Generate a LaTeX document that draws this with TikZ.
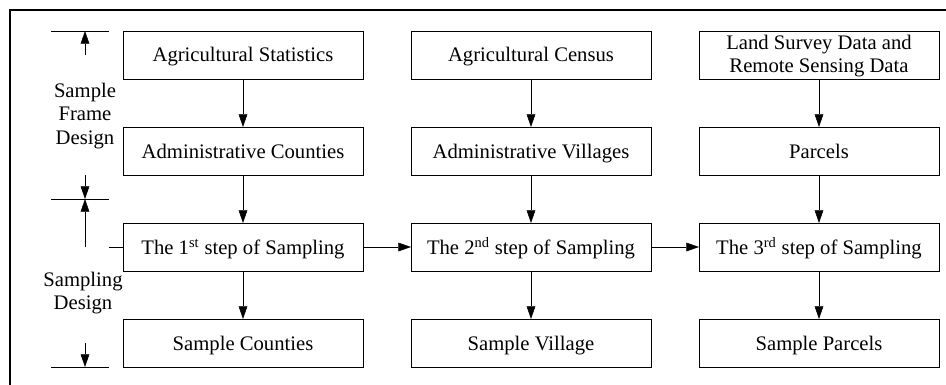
\documentclass[tikz,border=0pt]{standalone}
\usepackage{fontspec}
\setmainfont{Liberation Serif}
\usetikzlibrary{positioning,arrows.meta}

\begin{document}
\begin{tikzpicture}[
  x=0.75pt, y=-0.75pt,
  node distance=36pt,
  box/.style={minimum width=180pt, minimum height=36pt, inner sep=0pt, outer sep=0pt, draw, line width=0.6pt,
    font=\fontsize{15.5}{17.25}\selectfont, align=center, text height=12.5pt, text depth=2pt},
  twoline/.style={text height=29pt, text depth=3pt},
  lbl/.style={font=\fontsize{15.5}{17.5}\selectfont, align=center},
  >={Triangle[length=9.5pt,width=6.5pt]}
]
  \useasboundingbox (0,0) rectangle (946,385);

  % outer frame
  \draw[line width=2.2pt] (10,390) -- (10,10) -- (950,10);

  % first row
  \node[box] (stat) at (243,55) {Agricultural Statistics};
  \node[box, right=of stat] (census) {Agricultural Census};
  \node[box, twoline, right=of census] (survey) {Land Survey Data and\\Remote Sensing Data};

  % second row
  \node[box, below=of stat] (counties) {Administrative Counties};
  \node[box, below=of census] (villages) {Administrative Villages};
  \node[box, below=of survey] (parcels) {Parcels};

  % third row
  \node[box, below=of counties] (step1) {The 1\textsuperscript{st} step of Sampling};
  \node[box, below=of villages] (step2) {The 2\textsuperscript{nd} step of Sampling};
  \node[box, below=of parcels] (step3) {The 3\textsuperscript{rd} step of Sampling};

  % fourth row
  \node[box, below=of step1] (scounties) {Sample Counties};
  \node[box, below=of step2] (svillage) {Sample Village};
  \node[box, below=of step3] (sparcels) {Sample Parcels};

  \draw[->] (stat) -- (counties);
  \draw[->] (census) -- (villages);
  \draw[->] (survey) -- (parcels);
  \draw[->] (counties) -- (step1);
  \draw[->] (villages) -- (step2);
  \draw[->] (parcels) -- (step3);
  \draw[->] (step1) -- (scounties);
  \draw[->] (step2) -- (svillage);
  \draw[->] (step3) -- (sparcels);
  \draw[->] (step1) -- (step2);
  \draw[->] (step2) -- (step3);

  % left annotation
  \coordinate (t1) at (51,31);   \coordinate (t1e) at (109,31);
  \coordinate (t2) at (51,199);  \coordinate (t2e) at (109,199);
  \coordinate (t3) at (51,367);  \coordinate (t3e) at (109,367);
  \draw (t1) -- (t1e);
  \draw (t2) -- (t2e);
  \draw (t3) -- (t3e);

  \coordinate (a1) at (85,55);  \coordinate (a1e) at (85,31);
  \coordinate (a2) at (85,175); \coordinate (a2e) at (85,199);
  \coordinate (a3) at (85,247); \coordinate (a3e) at (85,199);
  \coordinate (a4) at (85,343); \coordinate (a4e) at (85,367);
  \draw[->] (a1) -- (a1e);
  \draw[->] (a2) -- (a2e);
  \draw[->] (a3) -- (a3e);
  \draw[->] (a4) -- (a4e);
  \coordinate (link) at (109,247);
  \draw (link) -- (step1.west);

  \node[lbl] (frame) at (85,116) {Sample\\Frame\\Design};
  \node[lbl] (design) at (83,293) {Sampling\\Design};

\end{tikzpicture}
\end{document}
